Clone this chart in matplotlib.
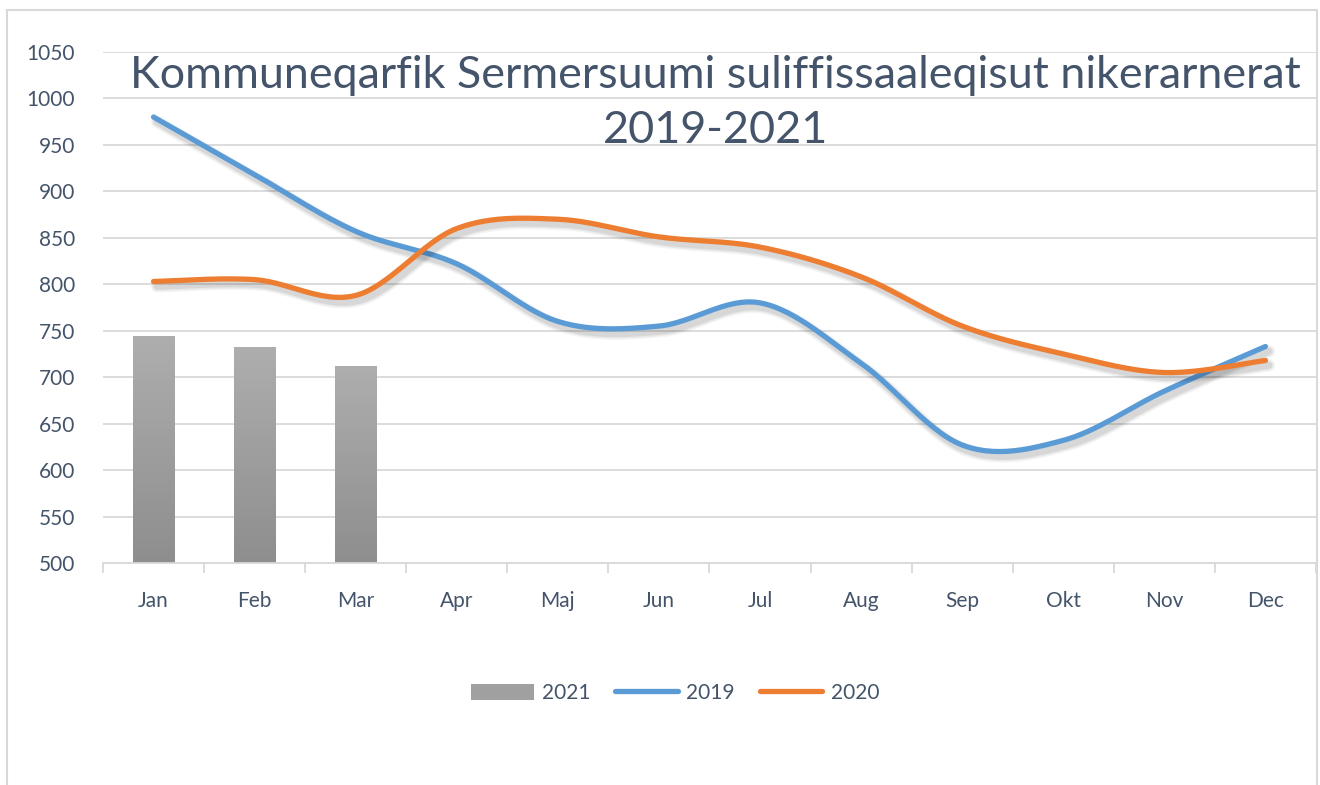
import numpy as np
import matplotlib.pyplot as plt
import matplotlib.patheffects as pe
from matplotlib.patches import Rectangle, Patch
from matplotlib.lines import Line2D

# --- data ---
months = ["Jan", "Feb", "Mar", "Apr", "Maj", "Jun", "Jul", "Aug", "Sep", "Okt", "Nov", "Dec"]
vals_2019 = [980, 918, 857, 822, 760, 755, 780, 715, 627, 632, 685, 733]
vals_2020 = [803, 805, 788, 860, 870, 851, 840, 808, 755, 725, 705, 718]
vals_2021 = [744, 732, 712]

title = "Kommuneqarfik Sermersuumi suliffissaaleqisut nikerarnerat\n2019-2021"

TEXT = "#44546A"
GRID = "#D9D9D9"
BLUE = "#5B9BD5"
ORANGE = "#ED7D31"


def smooth(y, n=30):
    # Catmull-Rom style smoothing like the spreadsheet "smoothed line"
    y = np.asarray(y, float)
    x = np.arange(len(y), dtype=float)
    px = np.concatenate([[x[0]], x, [x[-1]]])
    py = np.concatenate([[y[0]], y, [y[-1]]])
    xs, ys = [], []
    for i in range(1, len(px) - 2):
        p0, p1, p2, p3 = (np.array([px[j], py[j]]) for j in (i - 1, i, i + 1, i + 2))
        c1 = p1 + (p2 - p0) / 6
        c2 = p2 - (p3 - p1) / 6
        t = np.linspace(0, 1, n)[:, None]
        pts = ((1 - t) ** 3) * p1 + 3 * ((1 - t) ** 2) * t * c1 + 3 * (1 - t) * t ** 2 * c2 + t ** 3 * p2
        xs.append(pts[:, 0])
        ys.append(pts[:, 1])
    return np.concatenate(xs), np.concatenate(ys)


plt.rcParams["font.family"] = ["Lato", "DejaVu Sans"]

fig = plt.figure(figsize=(13.2, 7.85), dpi=100)
W, H = 1320, 785

# chart border
fig.patches.append(Rectangle((7 / W, -0.01), 1310 / W, 1 - 10 / H + 0.01, transform=fig.transFigure,
                             fill=False, edgecolor=GRID, lw=1.5))

ax = fig.add_axes([103 / W, (H - 563) / H, (1316 - 103) / W, (563 - 52) / H])
ax.set_xlim(-0.5, 11.5)
ax.set_ylim(500, 1050)
ax.set_yticks(np.arange(500, 1051, 50))
ax.grid(axis="y", color=GRID, lw=1.3)
ax.set_axisbelow(True)
for s in ["left", "right", "top"]:
    ax.spines[s].set_visible(False)
ax.spines["bottom"].set_color(GRID)
ax.spines["bottom"].set_linewidth(1.3)

ax.set_xticks(np.arange(-0.5, 12, 1))
ax.set_xticklabels([])
ax.set_xticks(np.arange(12), minor=True)
ax.set_xticklabels(months, minor=True)
ax.tick_params(axis="x", which="major", length=7, width=1.3, color=GRID)
ax.tick_params(axis="x", which="minor", length=0, pad=20, labelsize=15, labelcolor=TEXT)
ax.tick_params(axis="y", length=0, pad=20, labelsize=15, labelcolor=TEXT)

# bars with vertical gradient
bars = ax.bar(np.arange(len(vals_2021)), np.array(vals_2021) - 500, bottom=500, width=0.41,
              color="#A0A0A0", zorder=2)
grad = np.linspace(0, 1, 256).reshape(-1, 1)
cmap = plt.matplotlib.colors.LinearSegmentedColormap.from_list("g", ["#8E8E8E", "#AEAEAE"])
for b in bars:
    x0, y0, w, h = b.get_x(), b.get_y(), b.get_width(), b.get_height()
    im = ax.imshow(grad, cmap=cmap, extent=(x0, x0 + w, y0, y0 + h), origin="lower",
                   aspect="auto", zorder=2.1)
    im.set_clip_path(b)
ax.set_xlim(-0.5, 11.5)
ax.set_ylim(500, 1050)

# soft drop shadow: a few widening, faint layers
shadow = [pe.SimpleLineShadow(offset=(2.5, -3.5), shadow_color="k", alpha=a, rho=1, linewidth=lw)
          for lw, a in [(9, 0.04), (7, 0.05), (5, 0.07)]] + [pe.Normal()]
for vals, col in [(vals_2019, BLUE), (vals_2020, ORANGE)]:
    sx, sy = smooth(vals)
    ax.plot(sx, sy, color=col, lw=3.8, solid_capstyle="round", zorder=3, path_effects=shadow)

ax.text(5.56, 1047, title, ha="center", va="top", fontsize=32.3, color=TEXT, linespacing=1.42, zorder=4)

handles = [Patch(facecolor="#A0A0A0", edgecolor="none"),
           Line2D([], [], color=BLUE, lw=3.8, solid_capstyle="round"),
           Line2D([], [], color=ORANGE, lw=3.8, solid_capstyle="round")]
fig.legend(handles, ["2021", "2019", "2020"], loc="center", bbox_to_anchor=(675 / W, 1 - 693 / H),
           ncol=3, frameon=False, fontsize=15, labelcolor=TEXT, handlelength=3.0, handleheight=0.8,
           columnspacing=1.2, handletextpad=0.4)

fig.savefig("out.png", dpi=100)
